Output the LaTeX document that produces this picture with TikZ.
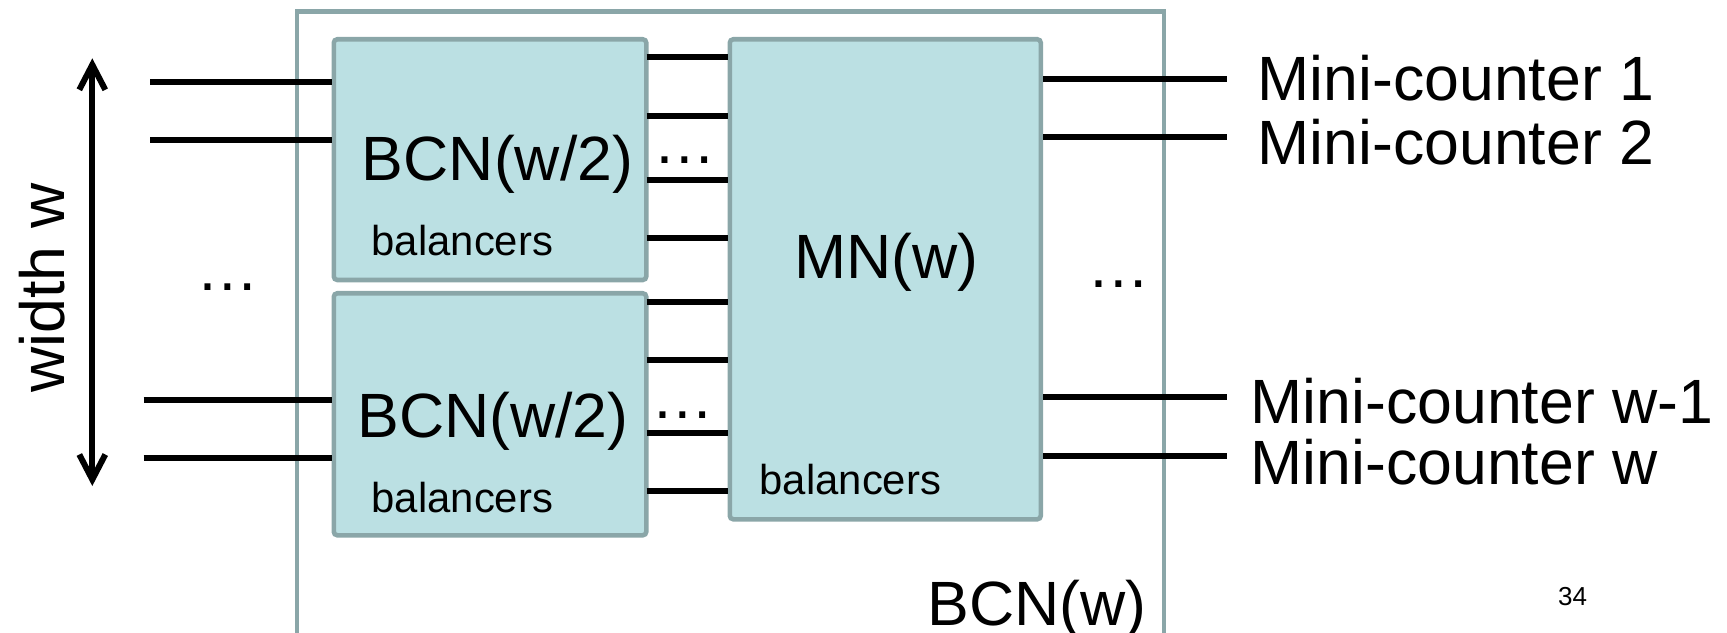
\documentclass[tikz,border=0pt]{standalone}
\usepackage{fontspec}
\setmainfont{Liberation Sans}
\usetikzlibrary{arrows.meta,positioning}
\definecolor{BoxFill}{HTML}{BBE0E3}
\definecolor{BoxEdge}{HTML}{8AA6A8}

\begin{document}
\begin{tikzpicture}[x=1cm,y=1cm,
    wire/.style={line width=1.7pt,black},
    block/.style={draw=BoxEdge,fill=BoxFill,line width=1.3pt,rounded corners=1pt,minimum width=3.125cm,inner sep=0pt},
    bigtext/.style={font=\fontsize{17.8}{20}\selectfont,inner sep=0pt},
    smalltext/.style={font=\fontsize{11.9}{14}\selectfont,inner sep=0pt}]
  \useasboundingbox (0,0) rectangle (17.27,6.32);
  \clip (0,0) rectangle (17.27,6.32);
  % outer network frame
  \draw[BoxEdge,line width=1.3pt] (2.97,-0.5) -- (2.97,6.207) -- (11.64,6.207) -- (11.64,-0.5);
  % sub-networks
  \node[block,minimum height=2.407cm,anchor=north west] (bcnA) at (3.315,5.95) {};
  \node[block,minimum height=2.42cm,anchor=north west] (bcnB) at (3.315,3.41) {};
  \node[block,minimum width=3.11cm,minimum height=4.80cm,anchor=north west] (mn) at (7.275,5.95) {};
  \node[bigtext,anchor=base] (bcnAlbl) at (4.975,4.51) {BCN(w/2)};
  \node[bigtext,anchor=base] (bcnBlbl) at (4.93,1.95) {BCN(w/2)};
  \node[smalltext,anchor=base west] (bcnAsub) at (3.71,3.76) {balancers};
  \node[smalltext,anchor=base west] (bcnBsub) at (3.71,1.20) {balancers};
  \node[bigtext,anchor=base] (mnlbl) at (8.865,3.54) {MN(w)};
  \node[smalltext,anchor=base west] (mnsub) at (7.59,1.38) {balancers};
  \node[bigtext,anchor=base] (bcnw) at (10.37,0.07) {BCN(w)};
  \node[font=\fontsize{7.4}{9}\selectfont,inner sep=0pt,anchor=base] (page) at (15.725,0.27) {34};
  % inputs
  \coordinate (in1) at (1.50,5.497);
  \coordinate (in2) at (1.50,4.92);
  \coordinate (in3) at (1.435,2.32);
  \coordinate (in4) at (1.435,1.74);
  \draw[wire] (in1) -- (bcnA.west |- in1);
  \draw[wire] (in2) -- (bcnA.west |- in2);
  \draw[wire] (in3) -- (bcnB.west |- in3);
  \draw[wire] (in4) -- (bcnB.west |- in4);
  % wires into the merger
  \foreach \y [count=\i] in {5.753,5.163,4.517,3.937,3.30,2.72,1.99,1.41} {
    \coordinate (mid\i) at (6.467,\y);
    \draw[wire] (mid\i) -- (mn.west |- mid\i);
  }
  % outputs
  \foreach \y/\yt/\xt/\txt [count=\i] in {5.526/5.31/12.57/Mini-counter 1,4.95/4.67/12.57/Mini-counter 2,
      2.35/2.09/12.50/Mini-counter w-1,1.76/1.48/12.50/Mini-counter w} {
    \coordinate (out\i) at (12.27,\y);
    \draw[wire] (mn.east |- out\i) -- (out\i);
    \node[bigtext,anchor=base west] (lbl\i) at (\xt,\yt) {\txt};
  }
  \node[bigtext,anchor=base] (dotsL) at (2.275,3.41) {…};
  \node[bigtext,anchor=base] (dotsA) at (6.85,4.68) {…};
  \node[bigtext,anchor=base] (dotsB) at (6.83,2.135) {…};
  \node[bigtext,anchor=base] (dotsR) at (11.19,3.44) {…};
  % width arrow
  \coordinate (wtop) at (0.923,5.737);
  \coordinate (wbot) at (0.923,1.46);
  \draw[wire,{Straight Barb[length=2.5mm,width=2.6mm]}-{Straight Barb[length=2.5mm,width=2.6mm]}] (wtop) -- (wbot);
  \node[bigtext,rotate=90] (wlbl) at (0.42,3.44) {width w};
\end{tikzpicture}
\end{document}
